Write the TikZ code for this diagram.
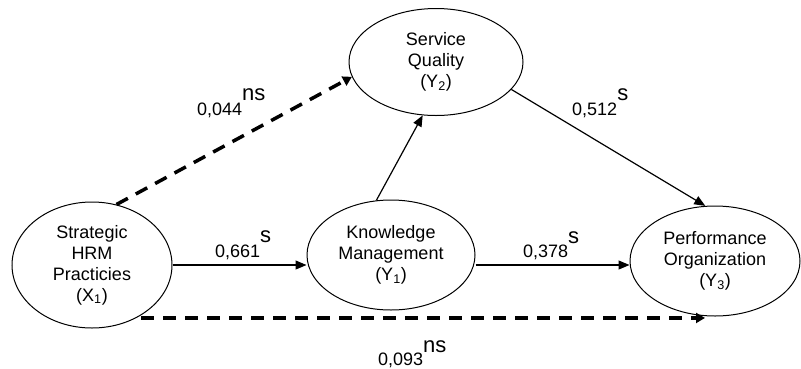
\documentclass[tikz,border=0pt]{standalone}
\usepackage{fontspec}
\setmainfont{Liberation Sans}
\usetikzlibrary{shapes.geometric,arrows.meta}
\newcommand{\nodef}{\fontsize{18}{21}\selectfont}
\newcommand{\numf}{\fontsize{18}{21}\selectfont}
\newcommand{\supf}{\fontsize{22}{25}\selectfont}
\tikzset{
  latent/.style={draw=black, line width=1pt, ellipse, inner sep=0pt, align=center, font=\nodef},
  solidpath/.style={draw=black, line width=1.2pt, -{Triangle[length=11pt,width=9pt]}},
  dashpath/.style={draw=black, line width=3.5pt, dash pattern=on 13pt off 9pt, -{Triangle[length=9pt,width=10pt]}},
  coef/.style={anchor=base west, inner sep=0pt}
}
\begin{document}
\begin{tikzpicture}[x=1pt,y=-1pt]
\useasboundingbox (0,0) rectangle (801,368);
\fill[white] (0,0) rectangle (801,368);
\node[latent, minimum width=160pt, minimum height=126pt] (X1) at (92,265) {Strategic\\HRM\\Practicies\\(X\textsubscript{1})};
\node[latent, minimum width=174pt, minimum height=107pt] (SQ) at (436,62) {Service\\Quality\\(Y\textsubscript{2})};
\node[latent, minimum width=168pt, minimum height=110pt] (KM) at (391,255) {Knowledge\\Management\\(Y\textsubscript{1})};
\node[latent, minimum width=170pt, minimum height=110pt] (PO) at (715,261) {Performance\\Organization\\(Y\textsubscript{3})};

\draw[solidpath] (X1.east) -- (X1.east -| KM.west);
\draw[solidpath] (KM.east |- X1.east) -- (X1.east -| PO.west);
\draw[solidpath] (KM.105) -- (SQ.256);
\draw[solidpath] (SQ.-20) -- (PO.100);
\draw[dashpath] (X1.68) -- (SQ.190);
\draw[dashpath] ([xshift=5pt]X1.-50) -- ([xshift=-10pt]X1.-50 -| PO.south);

\node[coef] (c661) at (215,257) {\numf 0,661\supf\raisebox{15pt}{s}};
\node[coef] (c378) at (523,257) {\numf 0,378\supf\raisebox{14pt}{s}};
\node[coef] (c512) at (572,115) {\numf 0,512\supf\raisebox{15pt}{s}};
\node[coef] (c044) at (197,115) {\numf 0,044\supf\raisebox{15pt}{ns}};
\node[coef] (c093) at (378,365) {\numf 0,093\supf\raisebox{13pt}{ns}};
\end{tikzpicture}
\end{document}
